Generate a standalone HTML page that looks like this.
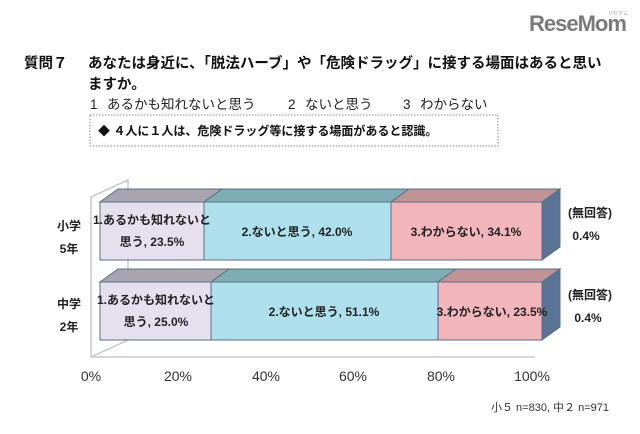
<!DOCTYPE html>
<html><head><meta charset="utf-8"><style>
body{margin:0;background:#fff;width:640px;height:429px;overflow:hidden}
svg text{font-family:"Liberation Sans","Noto Sans CJK JP",sans-serif}
</style></head><body>
<svg width="640" height="429" viewBox="0 0 640 429" xmlns="http://www.w3.org/2000/svg">
<text x="529" y="31" font-size="22" font-weight="bold" fill="#7a7a7a" letter-spacing="-1">ReseMom</text>
<text x="608" y="15" font-size="5" fill="#999">リセマム</text>
<g font-weight="bold" font-size="14.5" fill="#111">
<text x="24" y="68">質問７</text>
<text x="88" y="68">あなたは身近に、「脱法ハーブ」や「危険ドラッグ」に接する場面はあると思い</text>
<text x="88" y="89">ますか。</text>
</g>
<g font-size="13.5" fill="#222">
<text x="90" y="109">1</text><text x="107" y="109">あるかも知れないと思う</text>
<text x="288" y="109">2</text><text x="305" y="109">ないと思う</text>
<text x="403" y="109">3</text><text x="420" y="109">わからない</text>
</g>
<rect x="90" y="115" width="408" height="31" fill="none" stroke="#888" stroke-dasharray="1.5,1.5"/>
<text x="98" y="135" font-size="12" font-weight="bold" fill="#111">◆ ４人に１人は、危険ドラッグ等に接する場面があると認識。</text>
<g stroke="#c8c8c8" stroke-width="1.5" fill="none">
<polyline points="91,357 91,197 128,180 128,340 91,357"/>
<line x1="91" y1="357" x2="535" y2="357"/>
</g>
<g stroke="#5a6f80" stroke-width="1">
<polygon points="100,202 118,189 222,189 204,202" fill="#a9a4b0"/>
<polygon points="204,202 222,189 409,189 391,202" fill="#7fadb5"/>
<polygon points="391,202 409,189 560,189 542,202" fill="#c09497"/>
<polygon points="542,202 560,189 560,247 542,260" fill="#5b7396"/>
<rect x="100" y="202" width="104" height="58" fill="#e6e0ee"/>
<rect x="204" y="202" width="187" height="58" fill="#ade0ec"/>
<rect x="391" y="202" width="151" height="58" fill="#f2b5bb"/>
<polygon points="100,282 118,269 229,269 211,282" fill="#a9a4b0"/>
<polygon points="211,282 229,269 456,269 438,282" fill="#7fadb5"/>
<polygon points="438,282 456,269 560,269 542,282" fill="#c09497"/>
<polygon points="542,282 560,269 560,327 542,340" fill="#5b7396"/>
<rect x="100" y="282" width="111" height="58" fill="#e6e0ee"/>
<rect x="211" y="282" width="227" height="58" fill="#ade0ec"/>
<rect x="438" y="282" width="104" height="58" fill="#f2b5bb"/>
</g>
<g font-size="12" font-weight="bold" fill="#222" text-anchor="middle">
<text x="152" y="224">1.あるかも知れないと</text>
<text x="152" y="246">思う, 23.5%</text>
<text x="297" y="236">2.ないと思う, 42.0%</text>
<text x="466" y="236">3.わからない, 34.1%</text>
<text x="156" y="304">1.あるかも知れないと</text>
<text x="156" y="326">思う, 25.0%</text>
<text x="324" y="316">2.ないと思う, 51.1%</text>
<text x="492" y="316">3.わからない, 23.5%</text>
<text x="590" y="217">(無回答)</text>
<text x="586" y="240">0.4%</text>
<text x="590" y="299">(無回答)</text>
<text x="588" y="322">0.4%</text>
<text x="69" y="230">小学</text>
<text x="69" y="253">5年</text>
<text x="69" y="308">中学</text>
<text x="69" y="331">2年</text>
</g>
<g font-size="14" fill="#333" text-anchor="middle">
<text x="91" y="381">0%</text>
<text x="178" y="381">20%</text>
<text x="266" y="381">40%</text>
<text x="353" y="381">60%</text>
<text x="441" y="381">80%</text>
<text x="532" y="381">100%</text>
</g>
<text x="609" y="411" font-size="11" fill="#333" text-anchor="end">小５ n=830, 中２ n=971</text>
</svg>
</body></html>
